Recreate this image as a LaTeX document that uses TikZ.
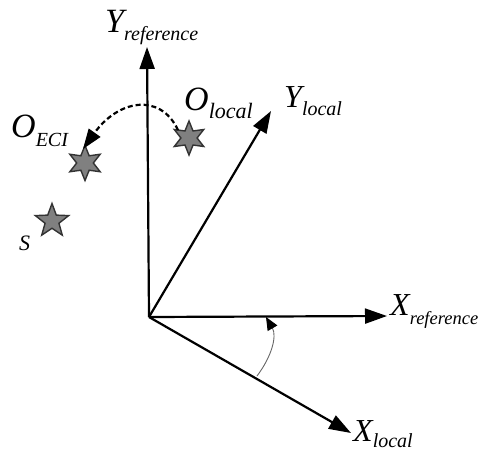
\documentclass[tikz,border=0pt]{standalone}
\usepackage{fontspec}
\setmainfont{Liberation Serif}
\usetikzlibrary{arrows.meta,shapes.geometric}
\newcommand\mylab[5]{{\fontsize{#1}{#1}\selectfont\itshape #2}\raisebox{-#5pt}{\fontsize{#3}{#3}\selectfont\itshape #4}}
\begin{document}
\begin{tikzpicture}[x=1pt,y=-1pt,
  axis/.style={line width=2.2pt,-{Triangle[length=22pt,width=15pt]}},
  lab/.style={anchor=base west,inner sep=0pt},
  starnode/.style={star,draw=black!80,fill=black!50,line width=1.4pt,inner sep=0pt,minimum size=#1},
]
\useasboundingbox (0,0) rectangle (481,453);
% axes
\coordinate (o) at (149,317);
\coordinate (yr) at (147,47);
\coordinate (xr) at (387,316);
\coordinate (xl) at (351,433);
\coordinate (yl) at (271,111);
\draw[axis] (o) -- (yr);
\draw[axis] (o) -- (xr);
\draw[axis] (o) -- (xl);
\draw[axis] (o) -- (yl);
% angle arc
\coordinate (a1) at (257,376);
\coordinate (a2) at (266,317);
\draw[black!60,line width=0.9pt,-{Triangle[length=13pt,width=11pt,black]}] (a1) .. controls (272,356) and (277,336) .. (a2);
% stars
\node[starnode=35pt,star points=6,star point ratio=2.1] (oe) at (85,163) {};
\node[starnode=34pt,star points=6,star point ratio=2.1] (ol) at (189,138) {};
\node[starnode=35pt,star points=5,star point ratio=2.4] (s) at (52,221) {};
% dashed arrow
\coordinate (ds) at (178,130);
\coordinate (de) at (83,149);
\draw[line width=2.2pt,dash pattern=on 5pt off 3pt,-{Triangle[length=20pt,width=14pt]}] (ds) .. controls (160,92) and (118,100) .. (de);
% labels
\node[lab] (lyr) at (105,32) {\mylab{34}{Y}{20}{reference}{8}};
\node[lab] (loe) at (11,137) {\mylab{34}{O}{20}{ECI}{9}};
\node[lab] (lol) at (184,110) {\mylab{34}{O}{22}{local}{8}};
\node[lab] (lyl) at (284,107) {\mylab{32}{Y}{20}{local}{8}};
\node[lab] (lxr) at (390,315) {\mylab{32}{X}{18.5}{reference}{9}};
\node[lab] (lxl) at (353,441) {\mylab{32}{X}{20}{local}{6}};
\node[lab] (ls) at (19,250) {{\fontsize{22}{22}\selectfont\itshape S}};
\end{tikzpicture}
\end{document}
